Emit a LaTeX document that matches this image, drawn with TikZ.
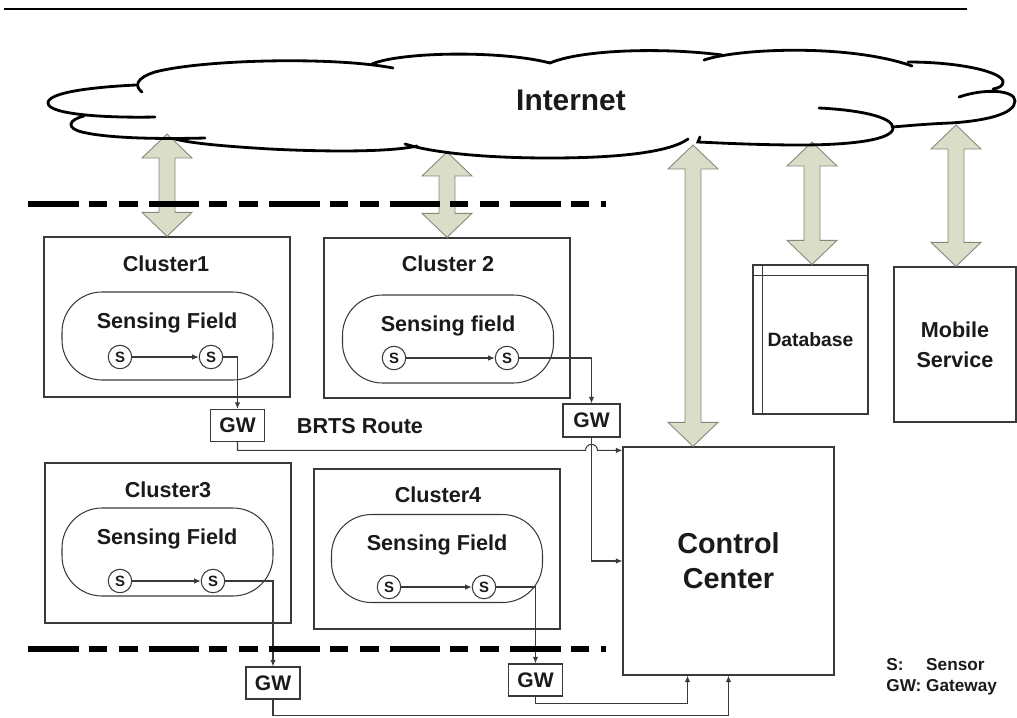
\documentclass[tikz,border=0pt]{standalone}
\usepackage{fontspec}
\setmainfont{Liberation Sans}
\usetikzlibrary{arrows.meta,calc}
\definecolor{Ink}{HTML}{1A1A1A}
\definecolor{Wire}{HTML}{3A3A3A}
\definecolor{Sage}{HTML}{DADDC8}
\definecolor{SageEdge}{HTML}{85877B}
\tikzset{
  >=Latex,
  every node/.style={text=Ink},
  cluster/.style={draw=Wire, line width=0.75pt, minimum width=4.92cm,
    minimum height=3.2cm, inner sep=0pt},
  field/.style={draw=Wire, line width=0.6pt, rounded corners=0.8cm,
    minimum width=4.22cm, minimum height=1.76cm, inner sep=0pt},
  sensor/.style={draw=Wire, circle, line width=0.6pt, minimum size=0.47cm,
    inner sep=0pt, font=\fontsize{8.5}{9}\selectfont\bfseries},
  gwbox/.style={draw=Wire, line width=0.75pt, minimum width=1.08cm,
    minimum height=0.64cm, inner sep=0pt, font=\fontsize{12}{14}\selectfont\bfseries},
  link/.style={draw=Wire, line width=0.6pt, -{Latex[length=1.3mm,width=1.1mm]}},
  bigarrow/.style={fill=Sage, draw=SageEdge, line width=0.5pt},
  cloudline/.style={draw=black, line width=1.6pt, line cap=round},
  tag/.style={font=\fontsize{12.3}{14}\selectfont\bfseries, inner sep=0pt},
  fence/.style={draw=black, line width=3.1pt,
    dash pattern=on 28.9pt off 5.7pt on 10.2pt off 6.8pt on 10.8pt off 6.2pt},
}
% wide two-headed arrow from a point on the cloud down to a box
\newcommand{\dualarrow}[2]{%
  \path[bigarrow] let \p1=#1, \p2=#2 in
    (\x1,\y1) -- (\x1+0.5cm,\y1-0.48cm) -- (\x1+0.16cm,\y1-0.48cm)
    -- (\x1+0.16cm,\y2+0.48cm) -- (\x1+0.5cm,\y2+0.48cm) -- (\x1,\y2)
    -- (\x1-0.5cm,\y2+0.48cm) -- (\x1-0.16cm,\y2+0.48cm)
    -- (\x1-0.16cm,\y1-0.48cm) -- (\x1-0.5cm,\y1-0.48cm) -- cycle;}

\begin{document}
\begin{tikzpicture}[x=0.02cm,y=-0.02cm]
  \useasboundingbox (0,0) rectangle (1017,717);
  \draw[draw=black, line width=1.5pt] (4,9) -- (967,9);

  % Clusters with their sensing fields.
  \node[cluster] (c1) at (167,317) {};
  \node[cluster] (c2) at (447,318) {};
  \node[cluster] (c3) at (168,543) {};
  \node[cluster] (c4) at (437,549) {};
  \node[tag] (c1t) at (166,264) {Cluster1};
  \node[tag] (c2t) at (448,264) {Cluster 2};
  \node[tag] (c3t) at (168,490) {Cluster3};
  \node[tag] (c4t) at (438,495) {Cluster4};

  \node[field] (sf1) at (167.5,336) {};
  \node[field] (sf2) at (448,339) {};
  \node[field] (sf3) at (167.5,552) {};
  \node[field] (sf4) at (437,558.5) {};
  \node[tag] (sf1t) at (167,323) {Sensing Field};
  \node[tag] (sf2t) at (448,326) {Sensing field};
  \node[tag] (sf3t) at (167,539) {Sensing Field};
  \node[tag] (sf4t) at (437,545) {Sensing Field};

  \node[sensor] (s1a) at (120,357) {S};
  \node[sensor] (s1b) at (211,357) {S};
  \node[sensor] (s2a) at (394,358) {S};
  \node[sensor] (s2b) at (507,358) {S};
  \node[sensor] (s3a) at (120,581) {S};
  \node[sensor] (s3b) at (213,581) {S};
  \node[sensor] (s4a) at (389,587) {S};
  \node[sensor] (s4b) at (484,587) {S};

  % Gateways, control center and services.
  \node[gwbox] (gw1) at (237.5,425.5) {GW};
  \node[gwbox, minimum width=1.14cm, minimum height=0.66cm] (gw2) at (591.5,420.5) {GW};
  \node[gwbox] (gw3) at (273,683) {GW};
  \node[gwbox] (gw4) at (535.5,680) {GW};
  \node[tag] (brts) at (360,426) {BRTS Route};

  \node[draw=Wire, line width=0.75pt, minimum width=4.22cm, minimum height=4.56cm,
    align=center, font=\fontsize{16.4}{19.8}\selectfont\bfseries]
    (cc) at (728.5,561) {Control\\Center};
  \node[draw=Wire, line width=0.75pt, minimum width=2.3cm, minimum height=2.98cm,
    font=\fontsize{11}{13}\selectfont\bfseries] (db) at (810.5,339.5) {Database};
  \draw[draw=Wire, line width=0.6pt] ($(db.north west)+(10,0)$) -- ($(db.south west)+(10,0)$);
  \draw[draw=Wire, line width=0.6pt] ($(db.north west)+(0,11)$) -- ($(db.north east)+(0,11)$);
  \node[draw=Wire, line width=0.75pt, minimum width=2.44cm, minimum height=3.1cm,
    align=center, font=\fontsize{12.3}{17}\selectfont\bfseries]
    (ms) at (955,344.5) {Mobile\\Service};

  \node[anchor=west, inner sep=0pt, font=\fontsize{9.8}{11.9}\selectfont\bfseries]
    (key) at (886,677) {\begin{tabular}{@{}l@{\ }l@{}}S: & Sensor\\GW: & Gateway\end{tabular}};

  % Sensor to gateway to control center routes.
  \draw[link] (s1a) -- (s1b);
  \draw[link] (s2a) -- (s2b);
  \draw[link] (s3a) -- (s3b);
  \draw[link] (s4a) -- (s4b);
  \draw[link] (s1b.east) -| (gw1.north);
  \draw[link] (s2b.east) -| (gw2.north);
  \draw[link] (s3b.east) -| (gw3.north);
  \draw[link] (s4b.east) -| (gw4.north);
  \coordinate (j1) at ($(cc.north west)+(0,4)$);
  \draw[link] (gw1.south) |- ($(gw2.south |- j1)+(-6,0)$)
    arc[start angle=180, end angle=360, radius=6] -- (j1);
  \draw[link] (gw2.south) |- (cc.west);
  \draw[link] (gw3.south) -- ++(0,16) -| (cc.south);
  \draw[link] (gw4.south) -- ++(0,7) -| ($(cc.south)+(-41,0)$);

  % Links up to the Internet.
  \coordinate (up1) at (167,134);
  \coordinate (up2) at (447,152);
  \coordinate (up3) at (693,145);
  \coordinate (up4) at (812,142);
  \coordinate (up5) at (956,125);
  \dualarrow{(up1)}{(c1.north)}
  \dualarrow{(up2)}{(c2.north)}
  \dualarrow{(up3)}{(up3 |- cc.north)}
  \dualarrow{(up4)}{(up4 |- db.north)}
  \dualarrow{(up5)}{(up5 |- ms.north)}

  \draw[fence] (28,204) -- (606,204);
  \draw[fence] (28,649) -- (606,649);

  % Cloud, drawn lobe by lobe.
  \draw[cloudline] (155,117) .. controls (110,118) and (48,115) .. (48,103)
    .. controls (48,92) and (95,87) .. (136,85);
  \draw[cloudline] (142,92) .. controls (134,86) and (136,78) .. (155,72)
    .. controls (200,60) and (330,56) .. (393,68);
  \draw[cloudline] (84,116) .. controls (68,120) and (66,128) .. (82,132)
    .. controls (110,139) and (170,139) .. (205,138);
  \draw[cloudline] (372,64) .. controls (400,52) and (500,50) .. (550,63);
  \draw[cloudline] (550,63) .. controls (580,50) and (660,47) .. (722,55);
  \draw[cloudline] (704,60) .. controls (740,48) and (850,44) .. (912,66);
  \draw[cloudline] (908,62) .. controls (960,62) and (1003,72) .. (1003,82)
    .. controls (1003,86) and (999,88) .. (993,89);
  \draw[cloudline] (959,97) .. controls (985,88) and (1015,90) .. (1015,101)
    .. controls (1015,114) and (985,121) .. (950,123)
    .. controls (925,124) and (905,126) .. (892,127);
  \draw[cloudline] (819,108) .. controls (860,110) and (893,117) .. (893,128)
    .. controls (893,140) and (850,145) .. (800,145)
    .. controls (760,145) and (720,143) .. (698,142) -- (700,137);
  \draw[cloudline] (405,144) .. controls (430,152) and (480,158) .. (550,158)
    .. controls (620,158) and (670,152) .. (688,139);
  \draw[cloudline] (417,146) .. controls (390,152) and (330,152) .. (270,149)
    .. controls (220,146) and (190,143) .. (175,139);
  \node[font=\fontsize{17}{20}\selectfont\bfseries] (net) at (571,100) {Internet};
\end{tikzpicture}
\end{document}
